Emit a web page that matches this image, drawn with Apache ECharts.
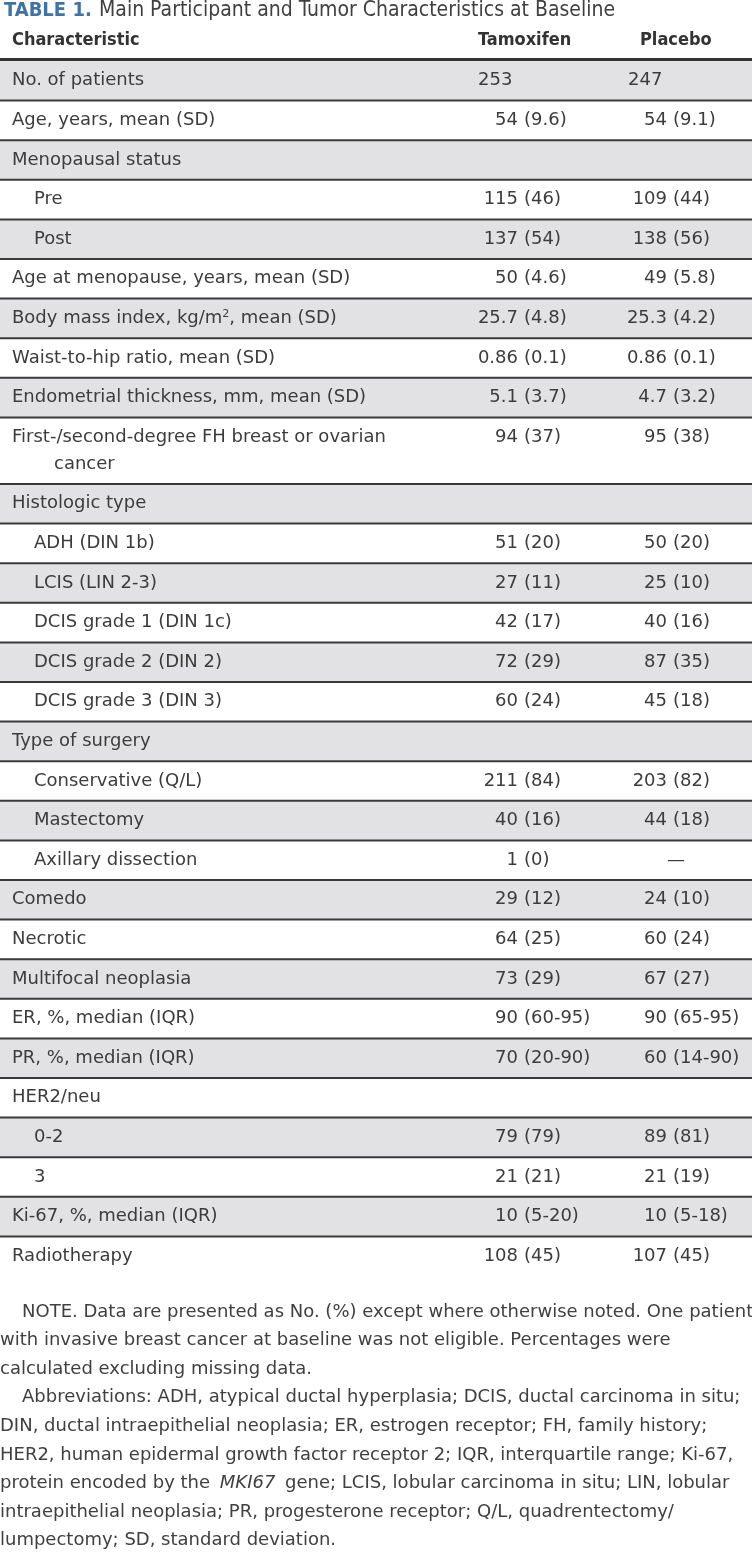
<!DOCTYPE html>
<html><head><meta charset="utf-8">
<script src="https://cdn.jsdelivr.net/npm/echarts@6/dist/echarts.min.js"></script>
<style>html,body{margin:0;padding:0;background:#fff}#c{width:752px;height:1563px}</style>
</head><body><div id="c"></div>
<script>
// ---------------- DATA ----------------
const tableLabel = 'TABLE 1.';
const tableTitle = 'Main Participant and Tumor Characteristics at Baseline';
const columnHeaders = ['Characteristic', 'Tamoxifen', 'Placebo'];
const characteristics = [
  'No. of patients',
  'Age, years, mean (SD)',
  'Menopausal status',
  'Pre',
  'Post',
  'Age at menopause, years, mean (SD)',
  'Body mass index, kg/m{sup|2}, mean (SD)',
  'Waist-to-hip ratio, mean (SD)',
  'Endometrial thickness, mm, mean (SD)',
  'First-/second-degree FH breast or ovarian\ncancer',
  'Histologic type',
  'ADH (DIN 1b)',
  'LCIS (LIN 2-3)',
  'DCIS grade 1 (DIN 1c)',
  'DCIS grade 2 (DIN 2)',
  'DCIS grade 3 (DIN 3)',
  'Type of surgery',
  'Conservative (Q/L)',
  'Mastectomy',
  'Axillary dissection',
  'Comedo',
  'Necrotic',
  'Multifocal neoplasia',
  'ER, %, median (IQR)',
  'PR, %, median (IQR)',
  'HER2/neu',
  '0-2',
  '3',
  'Ki-67, %, median (IQR)',
  'Radiotherapy'
];
const indentLevels = [0,0,0,1,1,0,0,0,0,0,0,1,1,1,1,1,0,1,1,1,0,0,0,0,0,0,1,1,0,0];
const tamoxifen = ['253','54 (9.6)','','115 (46)','137 (54)','50 (4.6)','25.7 (4.8)','0.86 (0.1)','5.1 (3.7)','94 (37)',
  '','51 (20)','27 (11)','42 (17)','72 (29)','60 (24)','','211 (84)','40 (16)','1 (0)',
  '29 (12)','64 (25)','73 (29)','90 (60-95)','70 (20-90)','','79 (79)','21 (21)','10 (5-20)','108 (45)'];
const placebo = ['247','54 (9.1)','','109 (44)','138 (56)','49 (5.8)','25.3 (4.2)','0.86 (0.1)','4.7 (3.2)','95 (38)',
  '','50 (20)','25 (10)','40 (16)','87 (35)','45 (18)','','203 (82)','44 (18)','—',
  '24 (10)','60 (24)','67 (27)','90 (65-95)','60 (14-90)','','89 (81)','21 (19)','10 (5-18)','107 (45)'];
const noteLines = [
  'NOTE. Data are presented as No. (%) except where otherwise noted. One patient',
  'with invasive breast cancer at baseline was not eligible. Percentages were',
  'calculated excluding missing data.',
  'Abbreviations: ADH, atypical ductal hyperplasia; DCIS, ductal carcinoma in situ;',
  'DIN, ductal intraepithelial neoplasia; ER, estrogen receptor; FH, family history;',
  'HER2, human epidermal growth factor receptor 2; IQR, interquartile range; Ki-67,',
  'protein encoded by the {i|MKI67} gene; LCIS, lobular carcinoma in situ; LIN, lobular',
  'intraepithelial neoplasia; PR, progesterone receptor; Q/L, quadrentectomy/',
  'lumpectomy; SD, standard deviation.'
];
const noteIndented = [true,false,false,true,false,false,false,false,false];

// ---------------- STYLE / LAYOUT ----------------
const W = 752;
const FONT = "'DejaVu Sans', 'Liberation Sans', sans-serif";
const FONT_COND = "'DejaVu Sans Condensed', 'Liberation Sans Narrow', 'DejaVu Sans', sans-serif";
const TEXT = '#3c3c3c';
const GRAY = '#e2e1e3';
const RULE = '#3a3a3a';
const BLUE = '#3f72a6';
const FS = 18;
const tableTop = 61, rowH = 39.6, extraLineH = 27;
const indentX = [12, 34];
const contX = 54;
const parenAnchor = [524, 673];
const colLeft = [478, 628];

const els = [];
function txt(text, x, y, opt) {
  opt = opt || {};
  els.push({
    type: 'text', silent: true,
    style: Object.assign({
      text: text, x: x, y: y,
      fill: TEXT, fontSize: FS, fontFamily: FONT,
      align: 'left', textAlign: 'left',
      verticalAlign: 'middle', textVerticalAlign: 'middle'
    }, opt)
  });
}
function setAlign(o, a) { o.align = a; o.textAlign = a; return o; }

// Title
txt(tableLabel, 4, 11, {fill: BLUE, fontWeight: 'bold', fontSize: 20, fontFamily: FONT_COND});
txt(tableTitle, 99, 11, {fontSize: 21, fontFamily: FONT_COND, fill: '#404040'});

// Column headers
const hdr = {fontWeight: 'bold', fontSize: 18, fontFamily: FONT_COND, fill: '#333'};
txt(columnHeaders[0], 12, 40, hdr);
txt(columnHeaders[1], 478, 40, hdr);
txt(columnHeaders[2], 640, 40, hdr);

// Rows
let y = tableTop;
const rowBoxes = [];
characteristics.forEach(function (label, i) {
  const lines = label.split('\n');
  const h = rowH + (lines.length - 1) * extraLineH;
  rowBoxes.push({y: y, h: h, lines: lines});
  y += h;
});
rowBoxes.forEach(function (b, i) {
  if (i % 2 === 0) {
    els.push({type: 'rect', silent: true, shape: {x: 0, y: b.y, width: W, height: b.h}, style: {fill: GRAY}});
  }
});
els.push({type: 'rect', silent: true, shape: {x: 0, y: 58, width: W, height: 3}, style: {fill: '#333'}});
rowBoxes.forEach(function (b, i) {
  if (i < rowBoxes.length - 1) {
    els.push({type: 'rect', silent: true, shape: {x: 0, y: b.y + b.h - 1, width: W, height: 2}, style: {fill: RULE}});
  }
});
rowBoxes.forEach(function (b, i) {
  const cy = b.y + rowH / 2;
  b.lines.forEach(function (ln, k) {
    const x = k === 0 ? indentX[indentLevels[i]] : contX;
    txt(ln, x, cy + k * extraLineH, {rich: {sup: {fontSize: 11, fontFamily: FONT, fill: TEXT, verticalAlign: 'top', padding: [0, 0, 9, 0]}}});
  });
  [tamoxifen[i], placebo[i]].forEach(function (v, c) {
    if (!v) return;
    const p = v.indexOf(' (');
    if (p >= 0) {
      txt(v.slice(0, p), parenAnchor[c] - 6, cy, setAlign({}, 'right'));
      txt(v.slice(p + 1), parenAnchor[c], cy);
    } else if (v === '—') {
      txt(v, parenAnchor[c] + 3, cy, setAlign({}, 'center'));
    } else {
      txt(v, colLeft[c], cy);
    }
  });
});

// Notes
const noteTop = 1312, noteStep = 28.6;
noteLines.forEach(function (ln, i) {
  txt(ln, noteIndented[i] ? 22 : 0, noteTop + i * noteStep, {
    fontSize: 18, fontFamily: FONT, fill: '#404040',
    rich: {i: {fontStyle: 'italic', fontSize: 18, fontFamily: FONT, fill: '#404040', padding: [0, 4, 0, 4]}}
  });
});

const chart = echarts.init(document.getElementById('c'), null, {renderer: 'canvas', width: 752, height: 1563});
chart.setOption({
  animation: false,
  backgroundColor: '#ffffff',
  graphic: {elements: els}
});
</script>
</body></html>
